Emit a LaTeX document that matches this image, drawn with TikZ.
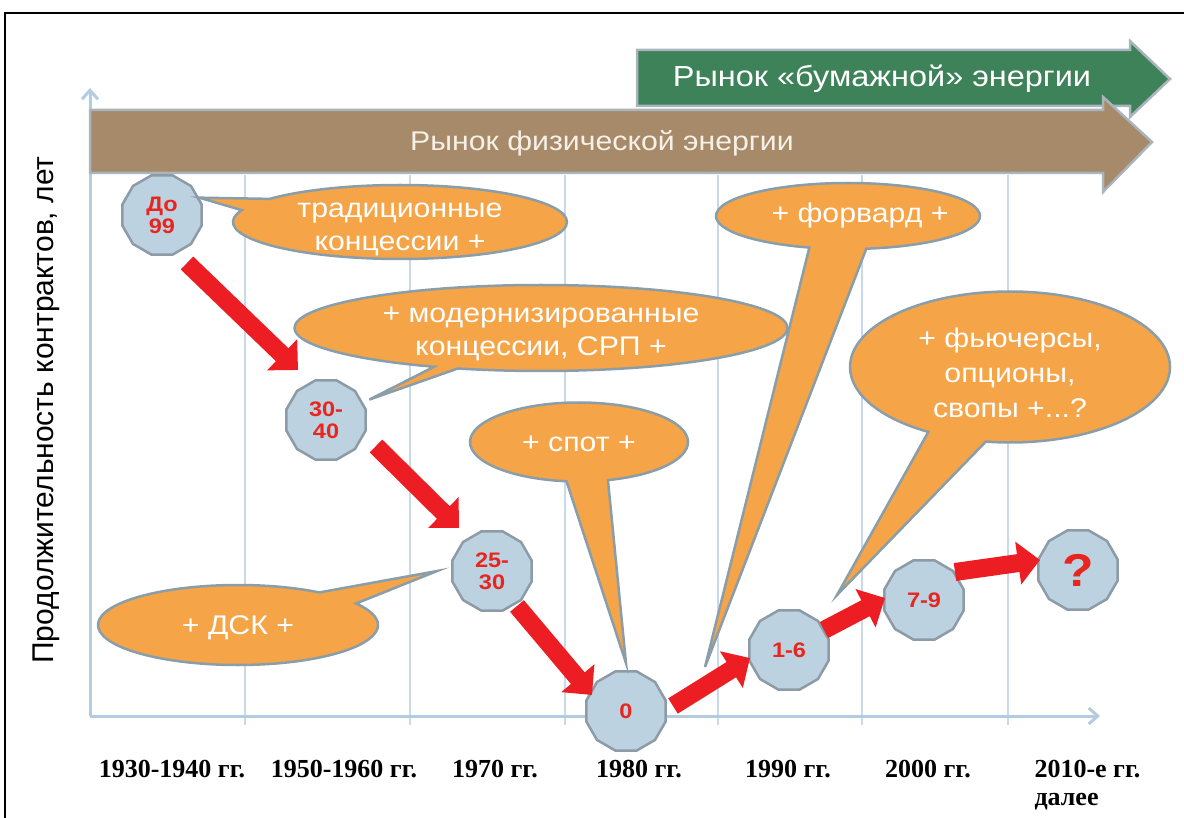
\documentclass[tikz,border=0pt]{standalone}
\usepackage{fontspec}
\setmainfont{Liberation Sans}
\newfontfamily\bullefont{Liberation Sans}[FakeStretch=1.12]
\newfontfamily\anneefont{Liberation Serif}
\usetikzlibrary{arrows.meta, shapes.geometric, shapes.callouts}

\definecolor{orangeb}{RGB}{245,164,72}
\definecolor{bordb}{RGB}{138,158,170}
\definecolor{octfill}{RGB}{188,210,224}
\definecolor{octbord}{RGB}{140,155,165}
\definecolor{rouge}{RGB}{236,30,36}
\definecolor{rougetxt}{RGB}{232,37,30}
\definecolor{brun}{RGB}{166,138,106}
\definecolor{vert}{RGB}{62,130,90}
\definecolor{bandbord}{RGB}{170,180,188}
\definecolor{axebleu}{RGB}{180,204,224}
\definecolor{grillebleu}{RGB}{200,218,233}
\definecolor{creme}{RGB}{246,240,230}

\tikzset{
	bulle/.style={ellipse callout, fill=orangeb, draw=bordb, line width=2.5pt, inner sep=0pt, outer sep=0pt},
	texteb/.style={font=\bullefont\fontsize{27}{33}\selectfont, text=white, align=center},
	octo/.style={regular polygon, regular polygon sides=12, minimum size=82pt, inner sep=0pt,
		fill=octfill, draw=octbord, line width=2.5pt, text=rougetxt, align=center,
		font=\bullefont\bfseries\fontsize{21}{22}\selectfont},
	fleche/.style={color=rouge, line width=18pt, -{Triangle[length=22pt,width=42pt]}},
	axe/.style={draw=axebleu, line width=3pt, -{Straight Barb[length=9pt,width=16pt]}},
	grille/.style={draw=grillebleu, line width=1.5pt},
	bande/.style={draw=bandbord, line width=2.5pt},
	annee/.style={font=\anneefont\bfseries\fontsize{26}{28}\selectfont, anchor=base}
}

\begin{document}
\begin{tikzpicture}[x=1pt, y=-1pt]
	\useasboundingbox (0,0) rectangle (1184,818);
	
	% cadre
	\draw[line width=1.5pt] (5,818) -- (5,13) -- (1184,13);
	
%%%%     AXES     %%%%

	\coordinate (O) at (90,716);
	\coordinate (yhaut) at (90,88);
	\coordinate (xfin) at (1100,716);
	
	\foreach \x in {245,410,565,718,862,1008}
		\draw[grille] (\x,175) -- (\x,725);
	\draw[axe] (O) -- (yhaut);
	\draw[axe] (O) -- (xfin);
	
	\node[rotate=90, font=\fontsize{30}{30}\selectfont] (ylab) at (46,410) {Продолжительность контрактов, лет};
	
	% annees
	\foreach \x/\an/\nom in {172/1930-1940 гг./a1930, 344/1950-1960 гг./a1950, 495/1970 гг./a1970,
		639/1980 гг./a1980, 788/1990 гг./a1990, 928/2000 гг./a2000}
		\node[annee] (\nom) at (\x,777) {\an};
	\node[annee, anchor=base west] (a2010) at (1031,777) {2010-е гг.};
	\node[annee, anchor=base west] (suite) at (1031,805) {далее};
	
%%%%     MARCHES     %%%%

	% papier
	\draw[bande, fill=vert] (637,50) -- (1130,50) -- (1130,41) -- (1170,79) -- (1130,117) -- (1130,106) -- (637,106) -- cycle;
	\node[font=\bullefont\fontsize{29}{29}\selectfont, text=white] (papier) at (882,79) {Рынок «бумажной» энергии};
	
	% physique
	\draw[bande, fill=brun] (90,110) -- (1103,110) -- (1103,97) -- (1152,142) -- (1103,192) -- (1103,173) -- (90,173) -- cycle;
	\node[font=\bullefont\fontsize{27}{27}\selectfont, text=creme] (physique) at (602,143) {Рынок физической энергии};
	
%%%%     DUREES     %%%%

	\node[octo] (n99) at (162,215) {До\\99};
	\node[octo] (n3040) at (326,420) {30-\\40};
	\node[octo] (n2530) at (492,571) {25-\\30};
	\node[octo] (n0) at (626,711) {0};
	\node[octo] (n16) at (789,650) {1-6};
	\node[octo] (n79) at (924,600) {7-9};
	\node[octo, font=\bullefont\bfseries\fontsize{46}{46}\selectfont] (nq) at (1078,570) {?};
	
	% bulles
	\node[bulle, minimum width=334pt, minimum height=74pt, callout pointer arc=20,
		callout absolute pointer={(n99.25)}] (b1) at (400,222) {};
	\node[texteb] (t1) at ([yshift=-7pt]b1) {традиционные\\концессии +};
	
	\node[bulle, minimum width=493pt, minimum height=86pt, callout pointer arc=6,
		callout absolute pointer={([shift={(8,0)}]n3040.30)}] (b2) at (541,328) {};
	\node[texteb] (t2) at ([yshift=-6pt]b2) {+ модернизированные\\концессии, СРП +};
	
	\node[bulle, minimum width=218pt, minimum height=79pt, callout pointer arc=22,
		callout absolute pointer={([yshift=7pt]n0.north)}] (b3) at (579,442) {};
	\node[texteb] (t3) at ([yshift=-2pt]b3) {+ спот +};
	
	\node[bulle, minimum width=264pt, minimum height=66pt, callout pointer arc=25,
		callout absolute pointer={([shift={(79,-44)}]n0.center)}] (b4) at (848,216) {};
	\node[texteb] (t4) at ([xshift=12pt]b4) {+ форвард +};
	
	\node[bulle, minimum width=320pt, minimum height=151pt, callout pointer arc=22,
		callout absolute pointer={([shift={(48,-55)}]n16.center)}] (b5) at (1010,367) {};
	\node[texteb, font=\bullefont\fontsize{27}{35}\selectfont] (t5) at ([yshift=-6pt]b5) {+ фьючерсы,\\опционы,\\свопы +...?};
	
	\node[bulle, minimum width=280pt, minimum height=80pt, callout pointer arc=22,
		callout absolute pointer={([xshift=-14pt]n2530.west)}] (b6) at (238,625) {};
	\node[texteb] (t6) at ([yshift=-3pt]b6) {+ ДСК +};
	
	% fleches rouges
	\draw[fleche] ([shift={(25,48)}]n99.center) -- ([shift={(-28,-50)}]n3040.center);
	\draw[fleche] ([shift={(50,26)}]n3040.center) -- ([shift={(-33,-43)}]n2530.center);
	\draw[fleche] ([shift={(25,35)}]n2530.center) -- ([shift={(-34,-16)}]n0.center);
	\draw[fleche] ([shift={(47,-5)}]n0.center) -- ([shift={(-39,8)}]n16.center);
	\draw[fleche] ([shift={(35,-20)}]n16.center) -- ([shift={(-39,-2)}]n79.center);
	\draw[fleche] ([shift={(31,-28)}]n79.center) -- ([shift={(-38,-10)}]nq.center);
	
\end{tikzpicture}
\end{document}
